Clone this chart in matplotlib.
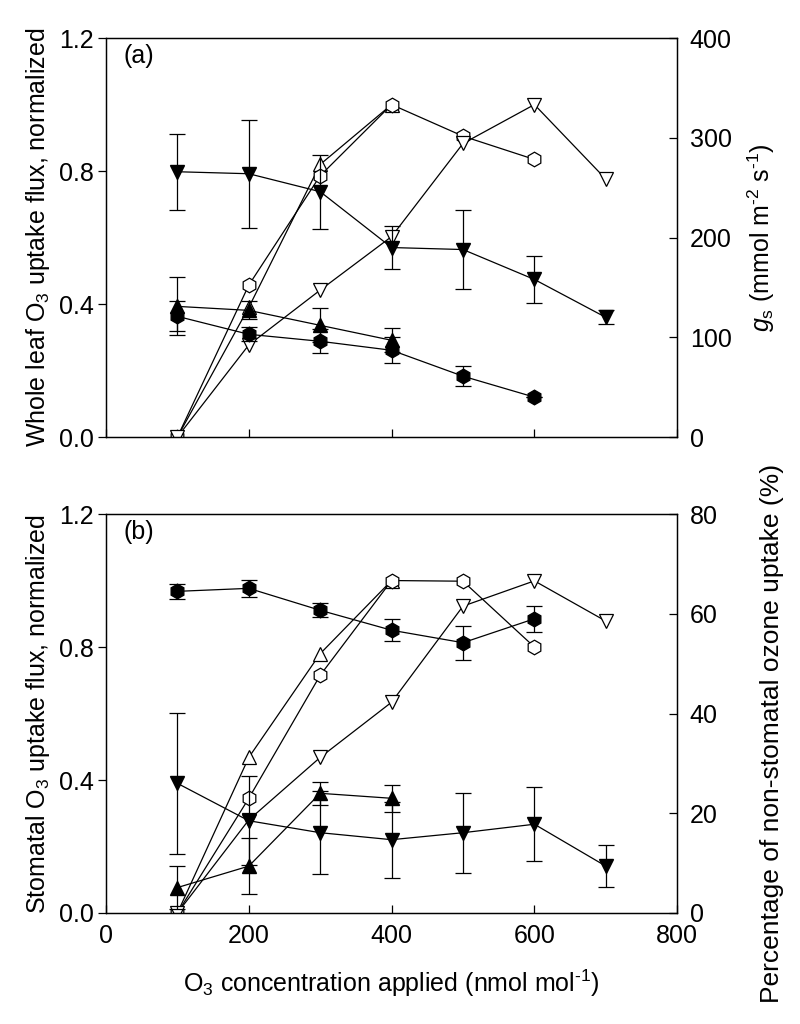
import matplotlib
matplotlib.use("Agg")
import matplotlib.pyplot as plt

plt.rcParams['font.family'] = ['Liberation Sans', 'DejaVu Sans']
plt.rcParams['mathtext.fontset'] = 'custom'
plt.rcParams['mathtext.rm'] = 'Liberation Sans'
plt.rcParams['mathtext.it'] = 'Liberation Sans:italic'
plt.rcParams['font.size'] = 18

####################################################################################################
# DATA
####################################################################################################
# panel (a): normalized whole leaf flux (left axis, open symbols)
x_hex = [100, 200, 300, 400, 500, 600]
x_up = [100, 200, 300, 400]
x_dn = [100, 200, 300, 400, 500, 600, 700]

a_hex_open = [0.0, 0.457, 0.786, 1.0, 0.905, 0.835]
a_up_open = [0.0, 0.39, 0.82, 1.0]
a_dn_open = [0.0, 0.277, 0.442, 0.603, 0.883, 1.0, 0.776]

# panel (a): g_s (right axis, filled symbols)
gs_dn = [266, 264, 246, 190, 188, 158, 120]
gs_dn_err = [38, 54, 37, 22, 40, 24, 7]
gs_up = [131, 127, 112, 97]
gs_up_err = [29, 9, 17, 12]
gs_hex = [121, 103, 96, 87, 61, 40]
gs_hex_err = [15, 7, 12, 13, 10, 0]

# panel (b): normalized stomatal flux (left axis, open symbols)
b_hex_open = [0.0, 0.345, 0.715, 1.0, 0.998, 0.8]
b_up_open = [0.0, 0.468, 0.78, 1.0]
b_dn_open = [0.0, 0.28, 0.468, 0.634, 0.923, 0.999, 0.878]

# panel (b): percentage non-stomatal uptake (right axis, filled symbols)
pct_hex = [64.5, 65.1, 60.7, 56.7, 54.2, 59.0]
pct_hex_err = [1.5, 1.7, 1.4, 2.2, 3.4, 2.6]
pct_up = [5.1, 9.4, 24.0, 23.0]
pct_up_err = [4.3, 5.6, 2.3, 2.7]
pct_dn = [26.0, 18.5, 16.1, 14.7, 16.1, 17.8, 9.4]
pct_dn_err = [14.2, 8.9, 8.3, 7.6, 8.0, 7.4, 4.2]

xticks = [0, 200, 400, 600, 800]

####################################################################################################
# PLOTTING
####################################################################################################
fig = plt.figure(figsize=(8, 10.24), dpi=100)
ax1 = fig.add_axes([0.1325, 0.5732, 0.714, 0.3896])
ax2 = fig.add_axes([0.1325, 0.1084, 0.714, 0.3896])

lw = 0.9
ms = 10.5


def open_line(ax, x, y, marker):
    ax.plot(x, y, color='black', lw=lw, marker=marker, ms=ms,
            mfc='white', mec='black', mew=lw)


def filled_line(ax, x, y, err, marker):
    ax.errorbar(x, y, yerr=err, color='black', lw=lw, marker=marker, ms=ms,
                mfc='black', mec='black', capsize=5.5, elinewidth=lw, capthick=lw)


def style(ax, axr, left_label, right_label, rmax, rticks, tag):
    ax.set_xlim(0, 800)
    ax.set_ylim(0, 1.2)
    ax.set_xticks(xticks)
    ax.set_yticks([0.0, 0.4, 0.8, 1.2])
    ax.set_yticklabels(['0.0', '0.4', '0.8', '1.2'])
    ax.tick_params(axis='x', direction='in', length=6, width=lw, pad=8)
    ax.tick_params(axis='y', direction='out', length=6, width=lw, pad=3)
    ax.set_ylabel(left_label, labelpad=5)
    axr.set_ylim(0, rmax)
    axr.set_yticks(rticks)
    axr.tick_params(axis='y', direction='in', length=6, width=lw, pad=9)
    axr.set_ylabel(right_label, labelpad=10)
    for a in (ax, axr):
        for s in a.spines.values():
            s.set_linewidth(lw)
    ax.text(0.03, 0.955, tag, transform=ax.transAxes, ha='left', va='center')


# panel (a)
ax1r = ax1.twinx()
open_line(ax1, x_up, a_up_open, '^')
open_line(ax1, x_hex, a_hex_open, 'h')
open_line(ax1, x_dn, a_dn_open, 'v')
filled_line(ax1r, x_dn, gs_dn, gs_dn_err, 'v')
filled_line(ax1r, x_up, gs_up, gs_up_err, '^')
filled_line(ax1r, x_hex, gs_hex, gs_hex_err, 'h')
style(ax1, ax1r, 'Whole leaf O$_3$ uptake flux, normalized',
      r'$\mathit{g}_\mathrm{s}$ (mmol m$^{\text{-2}}$ s$^{\text{-1}}$)',
      400, [0, 100, 200, 300, 400], '(a)')
ax1.set_xticklabels([])

# panel (b)
ax2r = ax2.twinx()
open_line(ax2, x_up, b_up_open, '^')
open_line(ax2, x_hex, b_hex_open, 'h')
open_line(ax2, x_dn, b_dn_open, 'v')
filled_line(ax2r, x_dn, pct_dn, pct_dn_err, 'v')
filled_line(ax2r, x_up, pct_up, pct_up_err, '^')
filled_line(ax2r, x_hex, pct_hex, pct_hex_err, 'h')
style(ax2, ax2r, 'Stomatal O$_3$ uptake flux, normalized',
      'Percentage of non-stomatal ozone uptake (%)',
      80, [0, 20, 40, 60, 80], '(b)')
ax2r.yaxis.label.set_fontsize(19)
ax2r.yaxis.set_label_coords(1.145, 0.45)
ax2.set_xlabel(r'O$_3$ concentration applied (nmol mol$^{\text{-1}}$)', labelpad=14)

fig.savefig('out.png', dpi=100)
